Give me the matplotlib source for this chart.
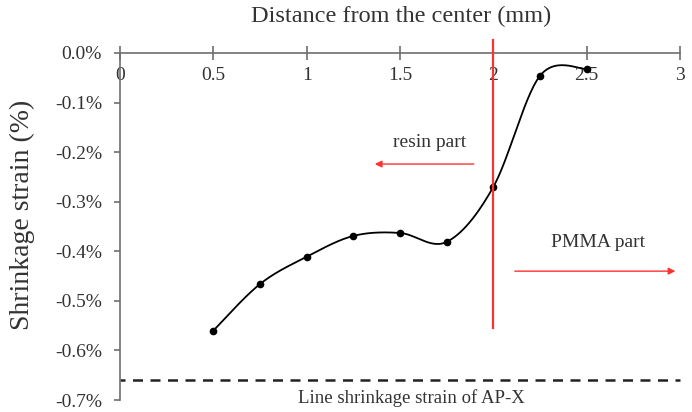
import numpy as np
import matplotlib.pyplot as plt
from matplotlib.ticker import FuncFormatter

# values
distance = [0.5, 0.75, 1.0, 1.25, 1.5, 1.75, 2.0, 2.25, 2.5]
strain = [-0.56, -0.466, -0.411, -0.369, -0.363, -0.381, -0.27, -0.046, -0.032]
apx_line = -0.66
x_ticks = [0, 0.5, 1, 1.5, 2, 2.5, 3]
y_ticks = [0, -0.1, -0.2, -0.3, -0.4, -0.5, -0.6, -0.7]
boundary = 2.0


def smooth(xs, ys, n=30):
    # excel style smoothed line: cubic bezier with 1/6 tangents
    xs = np.asarray(xs, float)
    ys = np.asarray(ys, float)
    px, py = [], []
    for i in range(len(xs) - 1):
        i0 = max(i - 1, 0)
        i3 = min(i + 2, len(xs) - 1)
        p0 = np.array([xs[i], ys[i]])
        p3 = np.array([xs[i + 1], ys[i + 1]])
        p1 = p0 + (p3 - np.array([xs[i0], ys[i0]])) / 6
        p2 = p3 - (np.array([xs[i3], ys[i3]]) - p0) / 6
        t = np.linspace(0, 1, n)[:, None]
        pts = (1 - t)**3 * p0 + 3 * (1 - t)**2 * t * p1 + 3 * (1 - t) * t**2 * p2 + t**3 * p3
        px.extend(pts[:, 0])
        py.extend(pts[:, 1])
    return px, py


plt.rcParams['font.family'] = ['Liberation Serif', 'DejaVu Serif']
txt = '#333333'
axc = '#6e6e6e'

fig = plt.figure(figsize=(6.92, 4.12), dpi=100)
ax = fig.add_axes([0.1734, 0.029, 0.8093, 0.8424])

sx, sy = smooth(distance, strain)
ax.plot(sx, sy, color='black', lw=1.3, zorder=3)
ax.plot(distance, strain, 'o', color='black', ms=4.5, zorder=4)

ax.axhline(apx_line, color='#222222', lw=1.8, ls=(2, (4, 3)), clip_on=False)
ax.plot([boundary, boundary], [0.027, -0.555], color='#ff3030', lw=1.6, clip_on=False, zorder=5)

ax.annotate('', xy=(1.35, -0.224), xytext=(1.91, -0.224),
            arrowprops=dict(arrowstyle='-|>', color='#ff3030', lw=1.0, mutation_scale=10))
ax.annotate('', xy=(2.99, -0.44), xytext=(2.10, -0.44),
            arrowprops=dict(arrowstyle='-|>', color='#ff3030', lw=1.0, mutation_scale=10))
ax.text(1.66, -0.18, 'resin part', ha='center', va='center', fontsize=14, color=txt)
ax.text(2.56, -0.383, 'PMMA part', ha='center', va='center', fontsize=14, color=txt)
ax.text(1.56, -0.695, 'Line shrinkage strain of AP-X', ha='center', va='center', fontsize=13.5, color=txt)

ax.set_xlim(0, 3)
ax.set_ylim(-0.7, 0)
ax.set_xticks(x_ticks)
ax.set_yticks(y_ticks)
ax.xaxis.set_major_formatter(FuncFormatter(lambda v, p: '%g' % v))
ax.yaxis.set_major_formatter(FuncFormatter(lambda v, p: '%.1f%%' % (0.0 if abs(v) < 1e-9 else v)))

for s in ['right', 'top']:
    ax.spines[s].set_visible(False)
ax.spines['bottom'].set_position(('data', 0))
ax.spines['bottom'].set_color(axc)
ax.spines['left'].set_color(axc)
ax.spines['bottom'].set_linewidth(1.2)
ax.spines['left'].set_linewidth(1.2)
ax.tick_params(axis='x', direction='inout', length=10, width=1.2, color=axc,
               labelsize=14, labelcolor=txt, pad=5)
ax.tick_params(axis='y', direction='out', length=4, width=1.2, color=axc,
               labelsize=14, labelcolor=txt, pad=9)

fig.text(0.58, 0.959, 'Distance from the center (mm)', ha='center', va='center', fontsize=17.5, color=txt)
fig.text(0.032, 0.478, 'Shrinkage strain (%)', ha='center', va='center', rotation=90, fontsize=20, color=txt)

fig.savefig('out.png', dpi=100)
